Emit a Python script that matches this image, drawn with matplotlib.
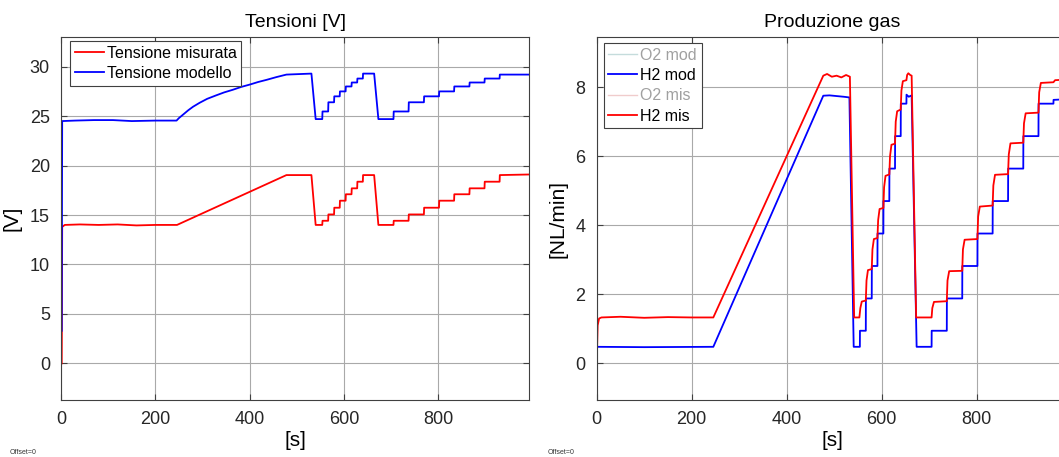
import numpy as np
import matplotlib
matplotlib.use("Agg")
import matplotlib.pyplot as plt

plt.rcParams['font.family'] = ['Liberation Sans', 'DejaVu Sans']

# ---- Tensioni [V] : (t [s], V) vertices ----
v_mis = [(1.5, 0), (1.8, 3.3), (2.5, 13.8), (8, 14.0), (40, 14.05), (80, 14.0), (120, 14.05),
         (160, 13.95), (200, 14.0), (246, 14.0), (478, 19.04), (531, 19.04), (540, 14.0),
         (554, 14.0), (554.5, 14.42), (566.5, 14.42), (567, 15.06), (579, 15.06), (579.5, 15.74),
         (591, 15.74), (591.5, 16.45), (603.5, 16.45), (604, 17.1), (616, 17.1), (616.5, 17.7),
         (628, 17.7), (628.5, 18.37), (640, 18.37), (640.5, 19.04), (664, 19.04), (673, 14.0),
         (705, 14.0), (705.5, 14.42), (737, 14.42), (737.5, 15.06), (769.5, 15.06), (770, 15.74),
         (801.5, 15.74), (802, 16.45), (833.5, 16.45), (834, 17.1), (866, 17.1), (866.5, 17.7),
         (898, 17.7), (898.5, 18.37), (930, 18.37), (930.5, 19.04), (993, 19.1)]

v_mod = [(1.5, 3.3), (2.5, 24.5), (30, 24.55), (70, 24.6), (110, 24.6), (150, 24.5), (200, 24.55),
         (245, 24.55), (250, 24.8), (255, 25.0), (260, 25.2), (270, 25.6), (280, 25.95),
         (294, 26.35), (310, 26.75), (329, 27.1), (346, 27.4), (364, 27.66), (382, 27.95),
         (401, 28.2), (418, 28.45), (436, 28.67), (457, 28.95), (478, 29.2), (531, 29.3),
         (540, 24.7), (554, 24.7), (554.5, 25.47),
         (566.5, 25.47), (567, 26.4), (579, 26.4), (579.5, 27.0), (591, 27.0), (591.5, 27.5),
         (603.5, 27.5), (604, 28.0), (616, 28.0), (616.5, 28.4), (628, 28.4), (628.5, 28.8),
         (640, 28.8), (640.5, 29.3), (664, 29.3), (673, 24.7), (705, 24.7), (705.5, 25.47),
         (737, 25.47), (737.5, 26.4), (769.5, 26.4), (770, 27.0), (801.5, 27.0), (802, 27.5),
         (833.5, 27.5), (834, 28.0), (866, 28.0), (866.5, 28.4), (898, 28.4), (898.5, 28.8),
         (930, 28.8), (930.5, 29.2), (993, 29.2)]

# ---- Produzione gas [NL/min] ----
h2_mod = [(0, 0.48), (100, 0.47), (245.5, 0.48), (477, 7.75), (490, 7.76), (505, 7.74),
          (520, 7.72), (532, 7.7), (541, 0.48), (554, 0.48), (554.2, 0.945), (566.5, 0.945),
          (566.7, 1.88), (579, 1.88), (579.2, 2.82), (591, 2.82), (591.2, 3.76), (603.5, 3.76),
          (603.7, 4.70), (616, 4.70), (616.2, 5.64), (628, 5.64), (628.2, 6.58), (640, 6.58),
          (640.2, 7.52), (652, 7.52), (652.2, 7.78), (657, 7.72), (663, 7.76), (673.5, 0.48),
          (705, 0.48), (705.2, 0.945), (737, 0.945), (737.2, 1.88), (769.5, 1.88), (769.7, 2.82),
          (801.5, 2.82), (801.7, 3.76), (833.5, 3.76), (833.7, 4.70), (866, 4.70), (866.2, 5.64),
          (898, 5.64), (898.2, 6.58), (930, 6.58), (930.2, 7.52), (961.5, 7.52), (961.7, 7.63),
          (993, 7.65)]

h2_mis = [(0, 0), (2, 1.1), (5, 1.3), (10, 1.33), (50, 1.35), (100, 1.32), (150, 1.34),
          (200, 1.33), (245.5, 1.33), (477, 8.33), (485, 8.38), (495, 8.3), (505, 8.33),
          (515, 8.28), (525, 8.35), (533, 8.3), (542, 1.33), (553, 1.33), (555, 1.6),
          (558, 1.79), (566.5, 1.82), (568, 2.4), (571, 2.7), (579, 2.73), (580.5, 3.3),
          (583.5, 3.6), (591, 3.63), (592.5, 4.15), (595.5, 4.47), (603.5, 4.5), (605, 5.1),
          (608, 5.43), (616, 5.47), (617.5, 6.0), (620.5, 6.33), (628, 6.36), (629.5, 7.0),
          (632.5, 7.3), (640, 7.35), (641.5, 7.9), (644.5, 8.17), (652, 8.2), (653.5, 8.35),
          (656, 8.4), (660, 8.35), (663, 8.33), (672.5, 1.33), (705, 1.33), (706.5, 1.6),
          (710, 1.78), (737, 1.80), (738.5, 2.4), (742, 2.67), (769.5, 2.68), (771, 3.3),
          (774.5, 3.58), (801.5, 3.6), (803, 4.25), (806.5, 4.54), (833.5, 4.57), (835, 5.15),
          (838.5, 5.46), (866, 5.48), (867.5, 6.05), (871, 6.37), (898, 6.39), (899.5, 6.95),
          (903, 7.24), (930, 7.26), (931.5, 7.85), (935, 8.12), (961.5, 8.14), (965, 8.2),
          (993, 8.22)]

x_ticks = [0, 200, 400, 600, 800]
v_ticks = [0, 5, 10, 15, 20, 25, 30]
gas_ticks = [0, 2, 4, 6, 8]

W, H = 1059, 457
fig = plt.figure(figsize=(W / 100, H / 100), dpi=100)

ax1 = fig.add_axes([61 / W, 57 / H, 468.3 / W, 363 / H])
ax2 = fig.add_axes([596.7 / W, 57 / H, 471.7 / W, 363 / H])

GRID = '#a9a9a9'
AXC = '#404040'
TXT = '#262626'


def style(ax):
    ax.grid(True, color=GRID, linewidth=0.8)
    ax.set_axisbelow(True)
    for s in ax.spines.values():
        s.set_color(AXC)
        s.set_linewidth(0.8)
    ax.tick_params(direction='in', length=4, width=0.8, color=AXC, labelcolor=TXT,
                   labelsize=13, top=True, right=True, pad=8)


def legend(ax, dx, dy):
    lg = ax.legend(loc='upper left', bbox_to_anchor=dx_dy(ax, dx, dy), borderaxespad=0,
                   fontsize=11.5, fancybox=False, edgecolor=AXC, framealpha=1,
                   handlelength=1.8, handletextpad=0.2, borderpad=0.3, labelspacing=0.33)
    lg.get_frame().set_linewidth(0.8)
    return lg


def dx_dy(ax, dx, dy):
    bb = ax.get_position()
    return (dx / (bb.width * W), 1 - dy / (bb.height * H))


t, v = np.array(v_mis).T
ax1.plot(t, v, color='red', lw=1.3, label='Tensione misurata')
t, v = np.array(v_mod).T
ax1.plot(t, v, color='blue', lw=1.3, label='Tensione modello')
ax1.set_xlim(0, 993)
ax1.set_ylim(-3.7, 33)
ax1.set_xticks(x_ticks)
ax1.set_yticks(v_ticks)
style(ax1)
ax1.set_title('Tensioni [V]', fontsize=14, color='black', pad=7)
ax1.set_xlabel('[s]', fontsize=15, color='black', labelpad=2)
ax1.set_ylabel('[V]', fontsize=15, color='black', labelpad=6)
legend(ax1, 9, 4)

# hidden O2 series: only shown greyed out in the legend
ax2.plot([], [], color='#c5dcdc', lw=1, label='O2 mod')
t, v = np.array(h2_mod).T
ax2.plot(t, v, color='blue', lw=1.3, label='H2 mod')
ax2.plot([], [], color='#f0cccc', lw=1, label='O2 mis')
t, v = np.array(h2_mis).T
ax2.plot(t, v, color='red', lw=1.3, label='H2 mis')
ax2.set_xlim(0, 993)
ax2.set_ylim(-1.06, 9.45)
ax2.set_xticks(x_ticks)
ax2.set_yticks(gas_ticks)
style(ax2)
ax2.set_title('Produzione gas', fontsize=14, color='black', pad=7)
ax2.set_xlabel('[s]', fontsize=15, color='black', labelpad=2)
ax2.set_ylabel('[NL/min]', fontsize=15, color='black', labelpad=6)
leg2 = legend(ax2, 7, 6)
for txt, c in zip(leg2.get_texts(), ['#a0a0a0', 'black', '#a0a0a0', 'black']):
    txt.set_color(c)

fig.text(10 / W, 1 - 453 / H, 'Offset=0', fontsize=5, color='#333333', va='center')
fig.text(548 / W, 1 - 453 / H, 'Offset=0', fontsize=5, color='#333333', va='center')

fig.savefig('out.png', dpi=100)
